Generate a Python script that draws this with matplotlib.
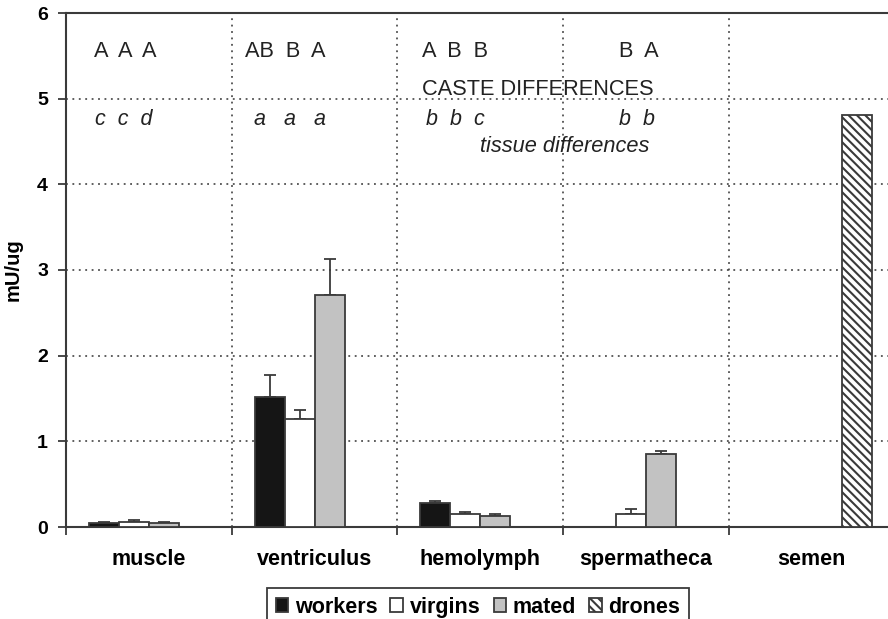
import numpy as np
import matplotlib.pyplot as plt

plt.rcParams['font.family'] = ['Liberation Sans', 'DejaVu Sans']
plt.rcParams['hatch.linewidth'] = 1.5

# data
tissues = ['muscle', 'ventriculus', 'hemolymph', 'spermatheca', 'semen']
series = ['workers', 'virgins', 'mated', 'drones']

workers = [0.05, 1.52, 0.275, np.nan, np.nan]
workers_err = [0.005, 0.25, 0.032, np.nan, np.nan]
virgins = [0.062, 1.26, 0.148, 0.152, np.nan]
virgins_err = [0.02, 0.105, 0.022, 0.055, np.nan]
mated = [0.047, 2.71, 0.13, 0.848, np.nan]
mated_err = [0.006, 0.42, 0.027, 0.042, np.nan]
drones = [np.nan, np.nan, np.nan, np.nan, 4.81]

caste_letters = ['A  A  A', 'AB  B  A', 'A  B  B', 'B  A', '']
tissue_letters = ['c  c  d', 'a   a   a', 'b  b  c', 'b  b', '']

# layout / style
caste_x = [0.169, 0.080, 0.148, 0.337, 0.0]
tissue_x = [0.175, 0.135, 0.171, 0.339, 0.0]
colors = ['#151515', 'white', '#c2c2c2', 'white']
hatches = [None, None, None, '\\\\\\\\']
edge = '#3a3a3a'
w = 0.181

fig = plt.figure(figsize=(8.88, 6.19), dpi=100)
ax = fig.add_axes([66 / 888, 92 / 619, 828.5 / 888, 514 / 619])

x = np.arange(len(tissues)) + 0.5
values = [workers, virgins, mated, drones]
errs = [workers_err, virgins_err, mated_err, None]
for i, (vals, err) in enumerate(zip(values, errs)):
    xs = x + (i - 1.5) * w
    ax.bar(xs, vals, width=w, color=colors[i], edgecolor=edge, linewidth=1.3,
           hatch=hatches[i], label=series[i], zorder=3)
    if err is not None:
        ax.errorbar(xs, vals, yerr=[np.zeros(len(err)), err], fmt='none',
                    ecolor=edge, elinewidth=1.3, capsize=4, capthick=1.3, zorder=2)

ax.set_xlim(0, 5)
ax.set_ylim(0, 6)
ax.set_yticks(range(7))
ax.set_xticks(range(6))
ax.set_xticklabels([])
ax.set_xticks(x, minor=True)
ax.set_xticklabels(tissues, minor=True, fontsize=15.5, fontweight='bold')
ax.tick_params(axis='x', which='minor', length=0, pad=16)
ax.tick_params(axis='x', which='major', length=6, width=1.3, color=edge)
ax.tick_params(axis='y', length=6, width=1.3, color=edge, pad=7, labelsize=14)
for lab in ax.get_yticklabels():
    lab.set_fontweight('bold')

ax.grid(True, which='major', linestyle=(0, (1.2, 3)), color='#333333', linewidth=1.1)
ax.set_axisbelow(True)
for s in ax.spines.values():
    s.set_color(edge)
    s.set_linewidth(1.5)

ax.set_ylabel('mU/ug', fontsize=14.5, fontweight='bold')
ax.yaxis.set_label_coords(-0.052, 0.5)

for i in range(len(tissues)):
    ax.text(i + caste_x[i], 5.49, caste_letters[i], fontsize=15.7, color='#222222')
    ax.text(i + tissue_x[i], 4.69, tissue_letters[i], fontsize=15.5, style='italic', color='#222222')
ax.text(2.148, 5.04, 'CASTE DIFFERENCES', fontsize=15.7, color='#222222')
ax.text(2.5, 4.38, 'tissue differences', fontsize=15.7, style='italic', color='#222222')

leg = fig.legend(loc='upper center', bbox_to_anchor=(478 / 888, 1 - 588 / 619), ncol=4,
                 fancybox=False, edgecolor=edge, framealpha=1, handlelength=0.6,
                 handleheight=0.6, handletextpad=0.3, columnspacing=0.6,
                 borderpad=0.4, borderaxespad=0, prop={'size': 15.5, 'weight': 'bold'})
leg.get_frame().set_linewidth(1.3)

fig.savefig('out.png', dpi=100)
